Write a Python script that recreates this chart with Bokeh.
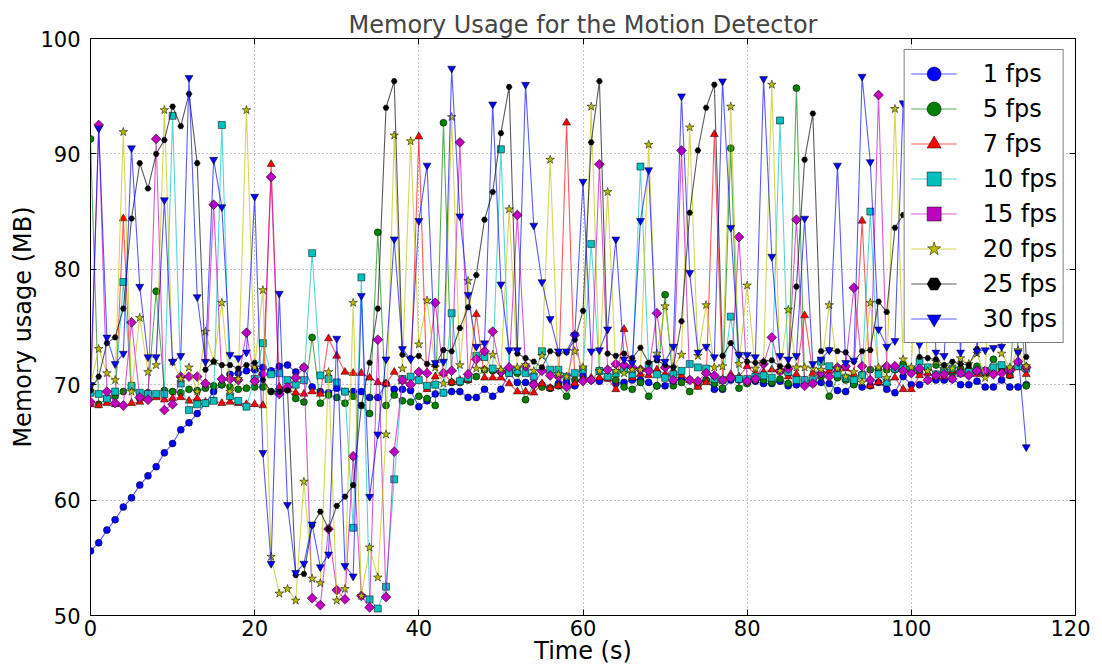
import math
from bokeh.plotting import figure
from bokeh.models import LinearAxis, Legend, LegendItem, FixedTicker, CustomLabelingPolicy
from bokeh.embed import file_html
from bokeh.resources import INLINE

# ---------------- data ----------------
time_s = list(range(115))

fps1 = [55.6, 56.3, 57.4, 58.3, 59.4, 60.2, 61.3, 62.1, 62.9, 64.1,
        64.9, 66.1, 66.7, 67.5, 68.4, 69.4, 70.0, 70.9, 71.0, 71.2,
        71.3, 71.5, 71.2, 71.6, 71.7, 71.1, 71.5, 69.8, 69.4, 69.3,
        69.7, 69.4, 69.4, 69.4, 68.9, 68.9, 70.1, 69.6, 69.6, 69.5,
        68.1, 68.6, 69.2, 69.3, 69.4, 69.4, 68.9, 68.9, 69.6, 69.0,
        69.6, 71.0, 70.2, 70.2, 70.1, 70.0, 69.7, 70.1, 70.2, 69.9,
        70.8, 70.4, 70.3, 70.6, 70.1, 70.2, 70.4, 70.4, 70.2, 69.9,
        69.9, 70.3, 70.5, 70.4, 70.2, 70.4, 69.6, 69.6, 70.4, 70.4,
        70.2, 70.3, 70.1, 70.1, 70.3, 69.9, 70.0, 70.1, 70.1, 70.2,
        70.1, 69.5, 69.4, 70.2, 69.8, 69.9, 70.2, 69.6, 69.3, 70.7,
        70.0, 70.0, 70.4, 70.4, 70.4, 70.5, 70.0, 70.0, 70.3, 69.8,
        69.8, 70.4, 69.8, 69.8, 70.0]

fps5 = [91.3, 68.3, 68.8, 69.0, 69.4, 69.9, 68.8, 69.3, 78.1, 69.5,
        69.4, 69.3, 69.6, 69.5, 69.7, 69.9, 70.0, 69.8, 69.6, 69.7,
        69.8, 69.8, 69.4, 69.5, 69.6, 68.8, 68.5, 74.1, 68.4, 69.1,
        68.9, 68.4, 69.0, 68.2, 67.5, 83.2, 68.2, 69.1, 68.6, 68.5,
        69.0, 68.8, 68.2, 92.7, 70.2, 70.2, 70.4, 70.7, 71.3, 71.2,
        71.1, 71.2, 71.0, 68.7, 70.0, 69.8, 69.7, 69.9, 69.0, 70.4,
        70.4, 70.4, 71.2, 70.7, 70.4, 69.8, 69.6, 70.2, 69.0, 69.9,
        77.8, 69.9, 70.2, 69.4, 69.9, 70.4, 70.1, 69.7, 90.5, 69.7,
        70.1, 70.4, 70.4, 70.2, 70.5, 70.1, 95.7, 70.4, 70.3, 70.7,
        69.0, 70.6, 70.4, 70.0, 70.9, 71.3, 71.3, 71.3, 71.3, 71.8,
        71.3, 71.1, 71.5, 71.7, 71.2, 71.0, 71.4, 71.3, 71.6, 71.0,
        72.2, 71.4, 70.8, 80.0, 69.9]

fps7 = [68.3, 68.2, 68.4, 68.3, 84.4, 68.4, 68.5, 68.8, 68.9, 68.7,
        68.8, 68.9, 68.6, 68.8, 68.5, 68.6, 68.4, 68.5, 68.4, 68.3,
        68.3, 68.2, 89.1, 69.8, 69.6, 69.3, 69.2, 69.4, 69.2, 74.0,
        72.5, 71.1, 71.0, 71.0, 70.6, 70.2, 70.1, 71.1, 70.3, 70.1,
        91.5, 69.6, 70.7, 71.0, 70.2, 70.4, 70.4, 76.1, 70.6, 70.6,
        70.6, 70.1, 69.4, 69.4, 69.3, 70.1, 69.7, 69.9, 92.7, 70.1,
        70.5, 70.6, 70.6, 70.5, 69.6, 74.8, 70.6, 70.9, 70.8, 71.3,
        70.9, 71.0, 70.8, 70.4, 69.8, 70.2, 91.7, 70.4, 70.9, 70.7,
        71.6, 70.9, 71.1, 71.3, 71.2, 70.7, 70.9, 76.0, 71.0, 71.1,
        71.2, 71.3, 71.4, 70.9, 84.2, 69.9, 70.2, 70.2, 70.6, 69.6,
        69.6, 70.8, 71.0, 70.7, 70.7, 71.2, 71.2, 71.3, 70.9, 71.0,
        71.1, 71.2, 70.8, 71.5, 70.9]

fps10 = [69.3, 69.2, 68.8, 69.4, 78.9, 69.9, 69.3, 69.2, 69.2, 69.2,
         93.3, 70.1, 67.8, 68.3, 68.4, 68.6, 92.5, 69.0, 68.6, 68.1,
         70.5, 73.6, 70.9, 71.0, 70.4, 70.0, 70.4, 81.4, 70.8, 70.5,
         70.2, 69.4, 57.6, 79.3, 51.4, 50.6, 52.5, 61.8, 70.5, 70.7,
         70.4, 69.9, 70.0, 69.3, 76.2, 70.3, 70.6, 72.5, 72.4, 71.4,
         90.4, 71.0, 71.2, 71.0, 70.7, 72.9, 71.3, 71.3, 70.7, 71.0,
         71.3, 82.2, 71.2, 70.7, 71.0, 71.3, 70.9, 88.9, 71.7, 70.9,
         70.6, 70.9, 71.2, 71.8, 71.5, 71.4, 70.5, 70.4, 75.9, 70.5,
         70.5, 70.7, 70.8, 70.6, 92.9, 71.1, 70.4, 70.4, 70.4, 72.0,
         71.6, 70.9, 70.6, 70.4, 70.8, 85.0, 70.9, 70.2, 71.4, 71.4,
         71.3, 72.0, 71.5, 70.9, 71.2, 71.4, 71.0, 71.1, 71.2, 71.2,
         71.5, 71.7, 71.3, 71.6, 71.4]

fps15 = [68.5, 92.5, 69.4, 68.4, 68.2, 75.4, 68.9, 68.7, 91.3, 67.8,
         68.3, 70.7, 70.7, 70.7, 70.1, 85.6, 70.5, 70.5, 70.4, 74.5,
         70.3, 70.9, 88.0, 69.2, 69.8, 70.6, 71.5, 51.5, 50.9, 57.5,
         52.2, 51.4, 63.8, 51.7, 50.7, 73.9, 51.6, 64.2, 70.4, 70.0,
         71.1, 71.0, 77.1, 71.0, 71.2, 91.0, 70.9, 72.2, 72.9, 74.6,
         71.1, 71.5, 84.7, 71.6, 70.0, 71.2, 70.8, 70.7, 69.8, 74.3,
         70.3, 70.4, 89.1, 71.3, 71.8, 71.7, 71.5, 71.3, 71.2, 76.2,
         71.5, 70.4, 90.3, 70.4, 70.3, 71.0, 70.8, 70.4, 70.6, 82.8,
         70.3, 70.5, 71.8, 74.1, 71.2, 71.4, 84.3, 69.9, 70.1, 71.0,
         70.7, 71.5, 71.6, 78.4, 71.6, 70.4, 95.1, 71.6, 71.6, 71.2,
         71.0, 71.4, 70.4, 70.8, 70.9, 70.5, 71.0, 70.8, 71.2, 71.2,
         70.9, 71.0, 71.3, 72.0, 71.5]

fps20 = [70.0, 73.1, 71.0, 70.4, 91.9, 69.4, 75.8, 71.1, 71.7, 93.8,
         72.0, 70.5, 71.5, 69.4, 74.6, 72.0, 77.1, 69.4, 70.5, 93.8,
         71.5, 78.2, 55.1, 51.9, 52.3, 51.3, 61.6, 53.2, 52.8, 71.1,
         51.3, 52.3, 77.1, 51.7, 55.9, 53.3, 65.7, 91.6, 71.4, 91.1,
         73.5, 77.3, 71.5, 70.1, 93.2, 71.7, 79.0, 71.4, 71.3, 72.6,
         71.3, 85.2, 71.5, 71.7, 71.2, 72.5, 89.5, 70.9, 70.7, 72.9,
         71.5, 94.1, 71.2, 86.7, 71.2, 71.0, 71.3, 71.3, 90.8, 72.7,
         76.8, 71.5, 72.6, 92.3, 72.5, 76.9, 71.5, 71.6, 94.1, 71.8,
         78.6, 71.4, 72.0, 96.0, 71.2, 76.5, 71.5, 71.5, 71.4, 71.3,
         76.9, 71.4, 70.7, 71.1, 70.2, 77.1, 71.5, 70.6, 93.9, 72.2,
         71.5, 88.0, 71.2, 72.0, 71.6, 71.4, 72.3, 71.8, 72.7, 70.6,
         90.0, 72.7, 71.5, 73.0, 71.6]

fps25 = [69.5, 70.7, 73.6, 74.1, 76.6, 84.4, 89.2, 87.0, 90.0, 91.2,
         94.1, 92.4, 95.2, 89.2, 71.3, 72.0, 71.7, 71.7, 71.4, 71.7,
         71.9, 70.4, 69.4, 69.4, 69.5, 53.5, 53.6, 57.8, 59.0, 57.5,
         59.5, 60.3, 61.3, 68.2, 71.9, 76.6, 94.0, 96.3, 72.6, 72.3,
         72.5, 71.8, 71.7, 73.0, 72.9, 74.9, 76.7, 79.5, 84.3, 86.7,
         91.8, 95.8, 72.7, 72.3, 72.0, 71.5, 72.9, 72.7, 72.8, 73.9,
         76.4, 91.0, 96.3, 72.7, 72.5, 72.7, 72.3, 73.2, 71.9, 72.1,
         71.7, 71.5, 75.5, 84.9, 90.3, 94.0, 96.0, 72.5, 73.6, 72.6,
         72.0, 71.9, 72.0, 72.1, 71.6, 71.6, 78.5, 89.5, 93.5, 72.9,
         73.0, 72.9, 72.8, 72.0, 72.9, 73.0, 77.2, 76.3, 83.6, 84.7,
         86.0, 72.4, 72.3, 72.2, 71.7, 72.0, 71.8, 71.7, 73.1, 80.0,
         88.0, 92.0, 94.0, 85.0, 72.4]

fps30 = [70.0, 92.2, 74.1, 71.8, 72.7, 90.5, 78.5, 72.4, 72.4, 86.0,
         72.0, 72.5, 96.6, 77.6, 72.0, 89.5, 85.4, 72.6, 72.3, 72.8,
         86.3, 64.1, 54.5, 77.9, 59.6, 53.7, 54.5, 57.9, 54.2, 55.3,
         74.0, 54.3, 53.4, 77.7, 60.3, 65.7, 72.2, 82.6, 73.1, 72.2,
         84.2, 89.0, 71.9, 72.0, 97.4, 84.6, 77.8, 73.3, 73.6, 94.3,
         78.7, 73.0, 73.0, 96.0, 83.8, 78.9, 75.7, 72.9, 72.9, 74.3,
         87.6, 72.9, 73.0, 74.8, 82.6, 72.2, 71.9, 84.2, 88.6, 72.3,
         72.0, 73.3, 95.0, 79.7, 72.8, 73.3, 72.4, 96.3, 83.6, 72.6,
         72.6, 72.4, 96.5, 81.1, 72.5, 72.2, 72.5, 84.4, 71.8, 72.2,
         73.0, 89.0, 71.9, 72.1, 96.7, 89.3, 74.8, 73.3, 73.8, 94.4,
         80.0, 73.5, 90.0, 72.8, 72.5, 85.0, 72.8, 88.0, 72.9, 73.0,
         73.2, 73.3, 92.0, 72.8, 64.6]

labels = ["1 fps", "5 fps", "7 fps", "10 fps", "15 fps", "20 fps", "25 fps", "30 fps"]
values = [fps1, fps5, fps7, fps10, fps15, fps20, fps25, fps30]
colors = ["#0000ff", "#008000", "#ff0000", "#00bfbf", "#bf00bf", "#bfbf00", "#000000", "#0000ff"]
markers = ["circle", "circle", "triangle", "square", "square", "star", "hex", "inverted_triangle"]
sizes = [7, 7, 8, 7, 7, 9, 6, 8]
angles = [0, 0, 0, 0, math.pi / 4, 0, 0, 0]

x_ticks = [0, 20, 40, 60, 80, 100, 120]
y_ticks = [50, 60, 70, 80, 90, 100]

FONT = "DejaVu Sans"

p = figure(width=1090, height=671, x_range=(0, 120), y_range=(50, 100),
           output_backend="svg", toolbar_location=None,
           min_border_left=90, min_border_right=15, min_border_top=38, min_border_bottom=56,
           title="Memory Usage for the Motion Detector")

p.title.text_font = FONT
p.title.text_font_size = "24px"
p.title.text_font_style = "normal"
p.title.align = "center"
p.title.standoff = 0

p.outline_line_color = "black"
p.outline_line_width = 1
p.outline_line_alpha = 1

for ax in (p.xaxis[0], p.yaxis[0]):
    ax.major_label_text_font = FONT
    ax.major_label_text_font_size = "21px"
    ax.major_label_text_color = "black"
    ax.axis_label_text_font = FONT
    ax.axis_label_text_font_size = "24px"
    ax.axis_label_text_font_style = "normal"
    ax.axis_label_text_color = "black"
    ax.major_tick_in = 6
    ax.major_tick_out = 0
    ax.minor_tick_line_color = None
    ax.axis_line_color = None
    ax.major_tick_line_color = "black"

p.xaxis[0].ticker = FixedTicker(ticks=x_ticks)
p.yaxis[0].ticker = FixedTicker(ticks=y_ticks)
p.xaxis[0].axis_label = "Time (s)"
p.yaxis[0].axis_label = "Memory usage (MB)"
p.xaxis[0].major_label_standoff = 4
p.xaxis[0].axis_label_standoff = -2
p.yaxis[0].major_label_standoff = 10
p.yaxis[0].axis_label_standoff = 0

no_labels = CustomLabelingPolicy(code="for (const i of indices) { if (i < 0) { yield i } }")
for side, ticks in (("right", y_ticks), ("above", x_ticks)):
    extra = LinearAxis(ticker=FixedTicker(ticks=ticks), major_label_policy=no_labels,
                       major_label_text_font_size="0px",
                       major_tick_in=6, major_tick_out=0, minor_tick_line_color=None,
                       axis_line_color=None, major_label_standoff=0)
    p.add_layout(extra, side)

p.xgrid.ticker = FixedTicker(ticks=x_ticks)
p.ygrid.ticker = FixedTicker(ticks=y_ticks)
for g in (p.xgrid[0], p.ygrid[0]):
    g.grid_line_color = "black"
    g.grid_line_alpha = 0.45
    g.grid_line_dash = "1 3"
    g.grid_line_width = 1

items = []
for lab, vals, col, mk, sz, ang in zip(labels, values, colors, markers, sizes, angles):
    ln = p.line(time_s, vals, line_color=col, line_width=1.1, line_alpha=0.65)
    sc = p.scatter(time_s, vals, marker=mk, size=sz, angle=ang, fill_color=col,
                   line_color="black", line_width=0.5)
    items.append(LegendItem(label=lab, renderers=[ln, sc]))

legend = Legend(items=items, location="top_right")
legend.label_text_font = FONT
legend.label_text_font_size = "24px"
legend.label_text_color = "black"
legend.glyph_width = 46
legend.glyph_height = 35
legend.label_height = 35
legend.label_standoff = 26
legend.spacing = 0
legend.padding = 6
legend.margin = 11
legend.border_line_color = "black"
legend.border_line_width = 1
legend.background_fill_color = "white"
legend.background_fill_alpha = 1
p.add_layout(legend)

open("out.html", "w").write(file_html(p, INLINE))
